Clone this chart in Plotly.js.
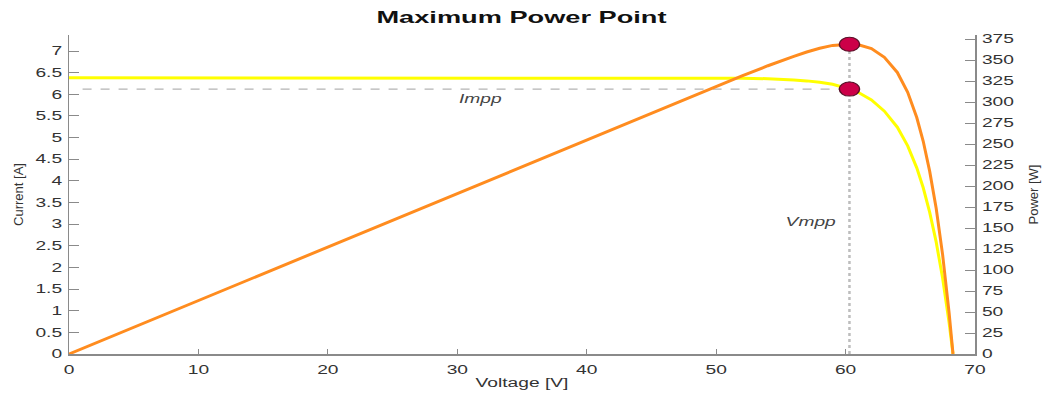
<!DOCTYPE html>
<html>
<head>
<meta charset="utf-8">
<script src="https://cdn.plot.ly/plotly-3.0.1.min.js"></script>
<style>
html,body{margin:0;padding:0;background:#fff;}
#chart{width:1043px;height:394px;}
</style>
</head>
<body>
<div id="chart"></div>
<script>
// Values
const voltage = [0, 10, 20, 30, 40, 45, 50, 52, 54, 55, 56, 57, 58, 59, 60.3, 61, 62, 63, 64, 64.8, 65.5, 66, 66.5, 67, 67.5, 68, 68.3];
const current = [6.38, 6.38, 6.38, 6.38, 6.38, 6.38, 6.38, 6.37, 6.36, 6.35, 6.33, 6.31, 6.28, 6.23, 6.12, 6.04, 5.87, 5.61, 5.24, 4.81, 4.30, 3.84, 3.27, 2.59, 1.75, 0.72, 0];
const power   = [0, 63.8, 127.6, 191.4, 255.2, 287.1, 319.0, 331.2, 343.4, 349.3, 354.5, 359.7, 364.2, 367.6, 369.0, 368.4, 363.9, 353.4, 335.4, 311.7, 281.7, 253.4, 217.5, 173.5, 118.1, 49.0, 0];
const mppVoltage = [60.3];
const mppCurrent = [6.12];
const mppPower = [369.0];
const xTickVals = [0, 10, 20, 30, 40, 50, 60, 70];
const titleText = 'Maximum Power Point';
const xTitle = 'Voltage [V]';
const yTitle = 'Current [A]';
const y2Title = 'Power [W]';
const imppLabel = 'Impp';
const vmppLabel = 'Vmpp';

const FONT = 'Liberation Sans, Arial, Helvetica, sans-serif';
const AXC = '#8a8a8a';
const TXT = '#333333';

const traces = [
  {x: voltage, y: current, type: 'scatter', mode: 'lines', yaxis: 'y',
   line: {color: '#ffff00', width: 3}, hoverinfo: 'skip', showlegend: false},
  {x: voltage, y: power, type: 'scatter', mode: 'lines', yaxis: 'y2',
   line: {color: '#ff8c1f', width: 3}, hoverinfo: 'skip', showlegend: false},
  {x: mppVoltage, y: mppCurrent, type: 'scatter', mode: 'markers', yaxis: 'y',
   marker: {color: '#cc0048', size: 14, line: {color: '#5a1028', width: 1}}, showlegend: false},
  {x: mppVoltage, y: mppPower, type: 'scatter', mode: 'markers', yaxis: 'y2',
   marker: {color: '#cc0048', size: 14, line: {color: '#5a1028', width: 1}}, showlegend: false}
];

const layout = {
  width: 1043, height: 394,
  margin: {l: 69, r: 68, t: 35, b: 40},
  paper_bgcolor: '#ffffff', plot_bgcolor: '#ffffff',
  font: {family: FONT, size: 12, color: TXT},
  showlegend: false,
  title: {text: '<b>' + titleText + '</b>', font: {family: FONT, size: 17, color: '#111'},
          x: 0.5, xref: 'container', xanchor: 'center', y: 0.957, yref: 'container', yanchor: 'middle'},
  xaxis: {
    range: [0, 70], tickvals: xTickVals, ticks: 'inside', ticklen: 5, tickwidth: 1, tickcolor: AXC,
    showline: true, linecolor: AXC, linewidth: 1.5, showgrid: false, zeroline: false,
    tickfont: {family: FONT, size: 12, color: TXT}, ticklabelstandoff: 4,
    title: {text: xTitle, font: {family: FONT, size: 12, color: TXT}, standoff: 2}
  },
  yaxis: {
    range: [0, 7.37], dtick: 0.5, tick0: 0, ticks: 'inside', ticklen: 10, tickwidth: 1, tickcolor: AXC,
    showline: true, linecolor: AXC, linewidth: 1.5, showgrid: false, zeroline: false,
    tickfont: {family: FONT, size: 12, color: TXT}, ticklabelstandoff: 3,
    title: {text: yTitle, font: {family: FONT, size: 13, color: TXT}, standoff: 19}
  },
  yaxis2: {
    range: [0, 380], dtick: 25, tick0: 0, overlaying: 'y', side: 'right', ticks: 'inside', ticklen: 10,
    tickwidth: 1, tickcolor: AXC, showline: true, linecolor: AXC, linewidth: 1.5, showgrid: false,
    zeroline: false, tickfont: {family: FONT, size: 12, color: TXT}, ticklabelstandoff: 3,
    title: {text: y2Title, font: {family: FONT, size: 13, color: TXT}, standoff: 27}
  },
  shapes: [
    {type: 'line', layer: 'below', xref: 'x', yref: 'y', x0: 1.05, x1: mppVoltage[0], y0: mppCurrent[0], y1: mppCurrent[0],
     line: {color: '#a0a0a0', width: 1, dash: 'dash'}},
    {type: 'line', layer: 'below', xref: 'x', yref: 'y2', x0: mppVoltage[0], x1: mppVoltage[0], y0: 0, y1: mppPower[0],
     line: {color: '#bdbdbd', width: 2.5, dash: 'dot'}}
  ],
  annotations: [
    {text: '<i>' + imppLabel + '</i>', xref: 'x', yref: 'y', x: 31.8, y: 5.9, showarrow: false,
     font: {family: FONT, size: 12, color: '#444'}},
    {text: '<i>' + vmppLabel + '</i>', xref: 'x', yref: 'y', x: 57.3, y: 3.06, showarrow: false,
     font: {family: FONT, size: 12, color: '#444'}}
  ]
};

Plotly.newPlot('chart', traces, layout, {staticPlot: true, displayModeBar: false}).then(function(gd){
  // the reference picture is horizontally stretched; widen horizontal texts and markers to match
  const S = 1.6;
  const sel = ['.gtitle', '.xtitle', '.xtick text', '.ytick text', '.y2tick text', '.annotation-text'];
  sel.forEach(function(q){
    gd.querySelectorAll(q).forEach(function(el){
      const ax = parseFloat(el.getAttribute('x')) || 0;
      const tr = el.getAttribute('transform') || '';
      el.setAttribute('transform', tr + ' translate(' + ax + ',0) scale(' + S + ',1) translate(' + (-ax) + ',0)');
    });
  });
  gd.querySelectorAll('.scatterlayer path.point').forEach(function(p){
    const tr = p.getAttribute('transform') || '';
    p.setAttribute('transform', tr + ' scale(1.45,1)');
  });
});
</script>
</body>
</html>
